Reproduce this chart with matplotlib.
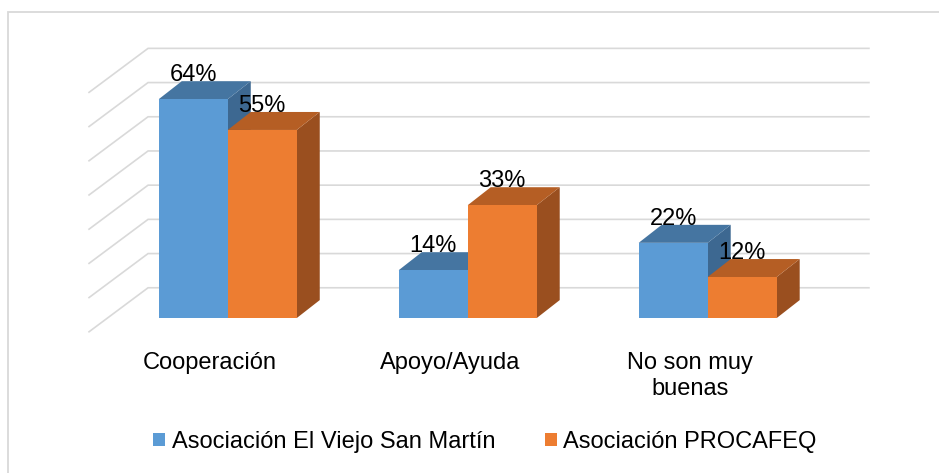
import matplotlib
matplotlib.use("Agg")
import matplotlib.pyplot as plt
from matplotlib.patches import Polygon, Rectangle, Patch

plt.rcParams['font.family'] = ['Liberation Sans', 'DejaVu Sans']

# datos
categorias = ["Cooperación", "Apoyo/Ayuda", "No son muy\nbuenas"]
series = ["Asociación El Viejo San Martín", "Asociación PROCAFEQ"]
viejo_san_martin = [64, 14, 22]
procafeq = [55, 33, 12]
valores = [viejo_san_martin, procafeq]
grid_vals = [0, 10, 20, 30, 40, 50, 60, 70]

# colores (cara frontal, techo, lado)
frente = ["#5B9BD5", "#ED7D31"]
techo = ["#4575A1", "#B55E24"]
lado = ["#3D6891", "#9A4F1F"]
gris = "#D9D9D9"

# geometria del falso 3D (en unidades de categoria / porcentaje)
w = 0.2875           # ancho de barra
dx, dy = 0.096, 5.26  # profundidad de barra
wall_dy = 8.86        # pared del fondo
wall_x0, wall_x1 = -0.332, 2.672
side_dx, side_dy = -0.246, -12.87

fig = plt.figure(figsize=(9.39, 4.73), dpi=100)
ax = fig.add_axes([0, 0, 1, 1])
ax.set_xlim(-0.949, 2.964)
ax.set_ylim(-45.3, 93.0)
ax.axis('off')

# lineas de cuadricula (pared lateral + fondo)
for g in grid_vals:
    yb = g + wall_dy
    ax.plot([wall_x0 + side_dx, wall_x0, wall_x1], [yb + side_dy, yb, yb],
            color=gris, lw=1.2, zorder=1, solid_joinstyle='miter')

# barras
for i in range(len(categorias)):
    for j in range(len(series)):
        v = valores[j][i]
        x0 = i - w + j * w
        z = 2 + j
        ax.add_patch(Polygon([(x0 + w, 0), (x0 + w, v), (x0 + w + dx, v + dy), (x0 + w + dx, dy)],
                             closed=True, facecolor=lado[j], edgecolor='none', zorder=z))
        ax.add_patch(Polygon([(x0, v), (x0 + w, v), (x0 + w + dx, v + dy), (x0 + dx, v + dy)],
                             closed=True, facecolor=techo[j], edgecolor='none', zorder=z))
        ax.add_patch(Rectangle((x0, 0), w, v, facecolor=frente[j], edgecolor='none', zorder=z))
        ax.text(x0 + w / 2, v + dy, f"{v}%", ha='center', va='baseline',
                fontsize=17, color='black', zorder=10)

# etiquetas de categoria
for i, cat in enumerate(categorias):
    ax.text(i - 0.075, -9.8, cat, ha='center', va='top', fontsize=17,
            color='black', linespacing=1.28)

# borde del grafico
fig.add_artist(Rectangle((8 / 939, -0.5), 2, 1.5 - 12 / 473, transform=fig.transFigure,
                         facecolor='none', edgecolor=gris, lw=1.3))

handles = [Patch(facecolor=c) for c in frente]
fig.legend(handles, series, loc='center', bbox_to_anchor=(0.5165, 0.0655), ncol=2,
           frameon=False, fontsize=17, handlelength=0.5, handleheight=0.5,
           handletextpad=0.28, columnspacing=2.1, borderaxespad=0, borderpad=0)

fig.savefig("out.png", dpi=100)
